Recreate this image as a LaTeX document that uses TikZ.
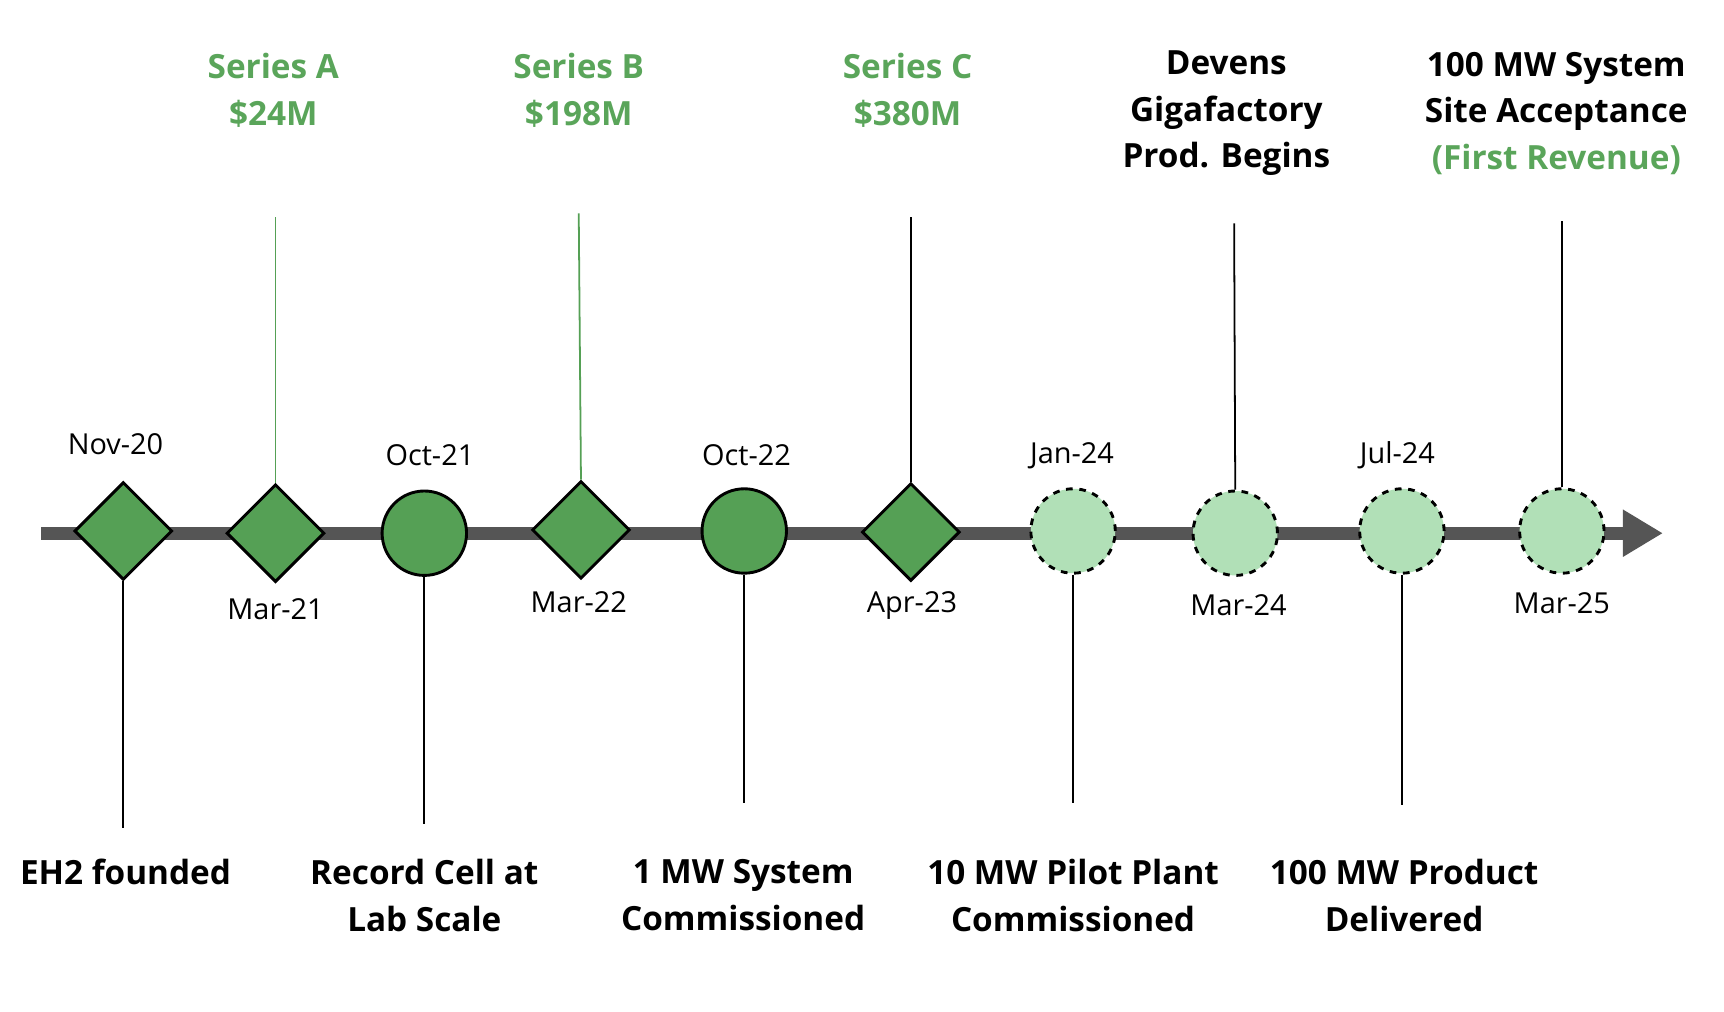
\documentclass[tikz,border=0pt]{standalone}
\usepackage{fontspec}
\setmainfont{Open Sans}
\usetikzlibrary{shapes.geometric,arrows.meta}
\definecolor{dg}{HTML}{55A055}
\definecolor{lg}{HTML}{B1E0B7}
\definecolor{tg}{HTML}{5AA55A}
\definecolor{ax}{HTML}{555555}
\begin{document}
\begin{tikzpicture}[x=0.5pt,y=-0.5pt,
 dia/.style={diamond,draw=black,line width=1.3pt,fill=dg,minimum width=44pt,minimum height=44pt,inner sep=0pt},
 cir/.style={circle,draw=black,line width=1.3pt,fill=dg,minimum size=38pt,inner sep=0pt},
 lcir/.style={circle,draw=black,line width=1.3pt,dashed,fill=lg,minimum size=38pt,inner sep=0pt},
 date/.style={font=\fontsize{13}{15}\selectfont},
 lab/.style={font=\bfseries\fontsize{15}{21}\selectfont,align=center},
 stem/.style={line width=0.8pt}]
\useasboundingbox (0,0) rectangle (1552,911);
\coordinate (s) at (37,480); \coordinate (e) at (1497,480);
\draw[ax,line width=6pt,-{Triangle[length=18pt,width=20pt]}] (s) -- (e);
% markers
\node[dia] (m1) at (111,478) {};
\node[dia] (m2) at (248,480) {};
\node[cir] (m3) at (382,480) {};
\node[dia] (m4) at (523,477) {};
\node[cir] (m5) at (670,478) {};
\node[dia] (m6) at (820,479) {};
\node[lcir] (m7) at (966,478) {};
\node[lcir] (m8) at (1112,480) {};
\node[lcir] (m9) at (1262,478) {};
\node[lcir] (m10) at (1406,478) {};
% stem ends
\coordinate (b1) at (111,745);
\coordinate (t2) at (248,195);
\coordinate (b3) at (382,742);
\coordinate (t4) at (521,192);
\coordinate (b5) at (670,723);
\coordinate (t6) at (820,195);
\coordinate (b7) at (966,723);
\coordinate (t8) at (1111,201);
\coordinate (b9) at (1262,725);
\coordinate (t10) at (1406,199);
\draw[stem] (m1.south) -- (b1);
\draw[stem,dg] (m2.north) -- (t2);
\draw[stem] (m3.south) -- (b3);
\draw[stem,dg] (m4.north) -- (t4);
\draw[stem] (m5.south) -- (b5);
\draw[stem] (m6.north) -- (t6);
\draw[stem] (m7.south) -- (b7);
\draw[stem] (m8.north) -- (t8);
\draw[stem] (m9.south) -- (b9);
\draw[stem] (m10.north) -- (t10);
% dates
\node[date] (d1) at (104,400) {Nov-20};
\node[date] (d2) at (248,548) {Mar-21};
\node[date] (d3) at (387,410) {Oct-21};
\node[date] (d4) at (521,542) {Mar-22};
\node[date] (d5) at (672,410) {Oct-22};
\node[date] (d6) at (821,545) {Apr-23};
\node[date] (d7) at (965,410) {Jan-24};
\node[date] (d8) at (1115,545) {Mar-24};
\node[date] (d9) at (1258,410) {Jul-24};
\node[date] (d10) at (1406,543) {Mar-25};
% top labels
\node[lab,text=tg] (l2) at (246,81) {Series A\\\$24M};
\node[lab,text=tg] (l4) at (521,81) {Series B\\\$198M};
\node[lab,text=tg] (l6) at (817,81) {Series C\\\$380M};
\node[lab] (l8) at (1104,102) {Devens\\Gigafactory\\Prod. Begins};
\node[lab] (l10) at (1401,102) {100 MW System\\Site Acceptance\\\textcolor{tg}{(First Revenue)}};
% bottom labels
\node[lab] (l1) at (113,785) {EH2 founded};
\node[lab] (l3) at (382,806) {Record Cell at\\Lab Scale};
\node[lab] (l5) at (669,806) {1 MW System\\Commissioned};
\node[lab] (l7) at (966,806) {10 MW Pilot Plant\\Commissioned};
\node[lab] (l9) at (1264,806) {100 MW Product\\Delivered};
\end{tikzpicture}
\end{document}
